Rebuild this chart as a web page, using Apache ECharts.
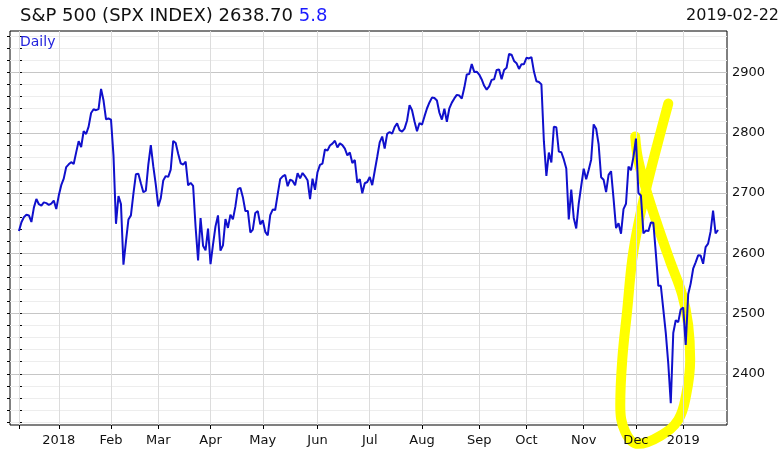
<!DOCTYPE html>
<html><head><meta charset="utf-8">
<script src="https://cdn.jsdelivr.net/npm/echarts@6/dist/echarts.min.js"></script>
<style>html,body{margin:0;padding:0;background:#fff}#c{width:783px;height:454px}</style>
</head><body><div id="c"></div>
<script>
const dates = [
'2017-12-07','2017-12-08','2017-12-11','2017-12-12','2017-12-13','2017-12-14','2017-12-15','2017-12-18','2017-12-19','2017-12-20','2017-12-21','2017-12-22','2017-12-26','2017-12-27','2017-12-28','2017-12-29',
'2018-01-02','2018-01-03','2018-01-04','2018-01-05','2018-01-08','2018-01-09','2018-01-10','2018-01-11','2018-01-12','2018-01-16','2018-01-17','2018-01-18','2018-01-19','2018-01-22','2018-01-23','2018-01-24','2018-01-25','2018-01-26','2018-01-29','2018-01-30','2018-01-31',
'2018-02-01','2018-02-02','2018-02-05','2018-02-06','2018-02-07','2018-02-08','2018-02-09','2018-02-12','2018-02-13','2018-02-14','2018-02-15','2018-02-16','2018-02-20','2018-02-21','2018-02-22','2018-02-23','2018-02-26','2018-02-27','2018-02-28',
'2018-03-01','2018-03-02','2018-03-05','2018-03-06','2018-03-07','2018-03-08','2018-03-09','2018-03-12','2018-03-13','2018-03-14','2018-03-15','2018-03-16','2018-03-19','2018-03-20','2018-03-21','2018-03-22','2018-03-23','2018-03-26','2018-03-27','2018-03-28','2018-03-29',
'2018-04-02','2018-04-03','2018-04-04','2018-04-05','2018-04-06','2018-04-09','2018-04-10','2018-04-11','2018-04-12','2018-04-13','2018-04-16','2018-04-17','2018-04-18','2018-04-19','2018-04-20','2018-04-23','2018-04-24','2018-04-25','2018-04-26','2018-04-27','2018-04-30',
'2018-05-01','2018-05-02','2018-05-03','2018-05-04','2018-05-07','2018-05-08','2018-05-09','2018-05-10','2018-05-11','2018-05-14','2018-05-15','2018-05-16','2018-05-17','2018-05-18','2018-05-21','2018-05-22','2018-05-23','2018-05-24','2018-05-25','2018-05-29','2018-05-30','2018-05-31',
'2018-06-01','2018-06-04','2018-06-05','2018-06-06','2018-06-07','2018-06-08','2018-06-11','2018-06-12','2018-06-13','2018-06-14','2018-06-15','2018-06-18','2018-06-19','2018-06-20','2018-06-21','2018-06-22','2018-06-25','2018-06-26','2018-06-27','2018-06-28','2018-06-29',
'2018-07-02','2018-07-03','2018-07-05','2018-07-06','2018-07-09','2018-07-10','2018-07-11','2018-07-12','2018-07-13','2018-07-16','2018-07-17','2018-07-18','2018-07-19','2018-07-20','2018-07-23','2018-07-24','2018-07-25','2018-07-26','2018-07-27','2018-07-30','2018-07-31',
'2018-08-01','2018-08-02','2018-08-03','2018-08-06','2018-08-07','2018-08-08','2018-08-09','2018-08-10','2018-08-13','2018-08-14','2018-08-15','2018-08-16','2018-08-17','2018-08-20','2018-08-21','2018-08-22','2018-08-23','2018-08-24','2018-08-27','2018-08-28','2018-08-29','2018-08-30','2018-08-31',
'2018-09-04','2018-09-05','2018-09-06','2018-09-07','2018-09-10','2018-09-11','2018-09-12','2018-09-13','2018-09-14','2018-09-17','2018-09-18','2018-09-19','2018-09-20','2018-09-21','2018-09-24','2018-09-25','2018-09-26','2018-09-27','2018-09-28',
'2018-10-01','2018-10-02','2018-10-03','2018-10-04','2018-10-05','2018-10-08','2018-10-09','2018-10-10','2018-10-11','2018-10-12','2018-10-15','2018-10-16','2018-10-17','2018-10-18','2018-10-19','2018-10-22','2018-10-23','2018-10-24','2018-10-25','2018-10-26','2018-10-29','2018-10-30','2018-10-31',
'2018-11-01','2018-11-02','2018-11-05','2018-11-06','2018-11-07','2018-11-08','2018-11-09','2018-11-12','2018-11-13','2018-11-14','2018-11-15','2018-11-16','2018-11-19','2018-11-20','2018-11-21','2018-11-23','2018-11-26','2018-11-27','2018-11-28','2018-11-29','2018-11-30',
'2018-12-03','2018-12-04','2018-12-06','2018-12-07','2018-12-10','2018-12-11','2018-12-12','2018-12-13','2018-12-14','2018-12-17','2018-12-18','2018-12-19','2018-12-20','2018-12-21','2018-12-24','2018-12-26','2018-12-27','2018-12-28','2018-12-31',
'2019-01-02','2019-01-03','2019-01-04','2019-01-07','2019-01-08','2019-01-09','2019-01-10','2019-01-11','2019-01-14','2019-01-15','2019-01-16','2019-01-17','2019-01-18','2019-01-22','2019-01-23'
];
const closes = [
2636.98,2651.50,2659.99,2664.11,2662.85,2652.01,2675.81,2690.16,2681.47,2679.25,2684.57,2683.34,2680.50,2682.62,2687.54,2673.61,
2695.81,2713.06,2723.99,2743.15,2747.71,2751.29,2748.23,2767.56,2786.24,2776.42,2802.56,2798.03,2810.30,2832.97,2839.13,2837.54,2839.25,2872.87,2853.53,2822.43,2823.81,
2821.98,2762.13,2648.94,2695.14,2681.66,2581.00,2619.55,2656.00,2662.94,2698.63,2731.20,2732.22,2716.26,2701.33,2703.96,2747.30,2779.60,2744.28,2713.83,
2677.67,2691.25,2720.94,2728.12,2726.80,2738.97,2786.57,2783.02,2765.31,2749.48,2747.33,2752.01,2712.92,2716.94,2711.93,2643.69,2588.26,2658.55,2612.62,2605.00,2640.87,
2581.88,2614.45,2644.69,2662.84,2604.47,2613.16,2656.87,2642.19,2663.99,2656.30,2677.84,2706.39,2708.64,2693.13,2670.14,2670.29,2634.56,2639.40,2666.94,2669.91,2648.05,
2654.80,2635.67,2629.73,2663.42,2672.63,2671.92,2697.79,2723.07,2727.72,2730.13,2711.45,2722.46,2720.13,2712.97,2733.01,2724.44,2733.29,2727.76,2721.33,2689.86,2724.01,2705.27,
2734.62,2746.87,2748.80,2772.35,2770.37,2779.03,2782.00,2786.85,2775.63,2782.49,2779.66,2773.75,2762.59,2767.32,2749.76,2754.88,2717.07,2723.06,2699.63,2716.31,2718.37,
2726.71,2713.22,2736.61,2759.82,2784.17,2793.84,2774.02,2798.29,2801.31,2798.43,2809.55,2815.62,2804.49,2801.83,2806.98,2820.40,2846.07,2837.44,2818.82,2802.60,2816.29,
2813.36,2827.22,2840.35,2850.40,2858.45,2857.70,2853.58,2833.28,2821.93,2839.96,2818.37,2840.69,2850.13,2857.05,2862.96,2861.82,2856.98,2874.69,2896.74,2897.52,2914.04,2901.13,2901.52,
2896.72,2888.60,2878.05,2871.68,2877.13,2887.89,2888.92,2904.18,2904.98,2888.80,2904.31,2907.95,2930.75,2929.67,2919.37,2915.56,2905.97,2914.00,2913.98,
2924.59,2923.43,2925.51,2901.61,2885.57,2884.43,2880.34,2785.68,2728.37,2767.13,2750.79,2809.92,2809.21,2768.78,2767.78,2755.88,2740.69,2656.10,2705.57,2658.69,2641.25,2682.63,2711.74,
2740.37,2723.06,2738.31,2755.45,2813.89,2806.83,2781.01,2726.22,2722.18,2701.58,2730.20,2736.27,2690.73,2641.89,2649.93,2632.56,2673.45,2682.17,2743.79,2737.80,2760.17,
2790.37,2700.06,2695.95,2633.08,2637.72,2636.78,2651.07,2650.54,2599.95,2545.94,2546.16,2506.96,2467.42,2416.62,2351.10,2467.70,2488.83,2485.74,2506.85,
2510.03,2447.89,2531.94,2549.69,2574.41,2584.96,2596.64,2596.26,2582.61,2610.30,2616.10,2635.96,2670.71,2632.90,2638.70
];
const monthLabels = ['2018','Feb','Mar','Apr','May','Jun','Jul','Aug','Sep','Oct','Nov','Dec','2019'];
const yLabelTicks = [2400,2500,2600,2700,2800,2900];
const yMinorTicks = [2320,2340,2360,2380,2400,2420,2440,2460,2480,2500,2520,2540,2560,2580,2600,2620,2640,2660,2680,2700,2720,2740,2760,2780,2800,2820,2840,2860,2880,2900,2920,2940,2960];
const titleMain = 'S&P 500 (SPX INDEX) 2638.70';
const titleChange = '5.8';
const titleDate = '2019-02-22';
const periodLabel = 'Daily';
// freehand yellow highlight, in data coordinates [trading-day index, index level]
const highlightPath = [[261.0,2848.5],[256.6,2780.4],[252.5,2713.9],[248.9,2647.5],[246.5,2589.4],[244.5,2506.3],[242.5,2423.3],[241.7,2348.5],[243.7,2303.7],[248.9,2283.7],[257.8,2297.0],[265.0,2323.6],[268.2,2365.1],[269.8,2423.3],[269.0,2481.4],[266.6,2531.2],[261.8,2586.0],[256.6,2647.5],[252.1,2705.6],[248.9,2755.5],[247.7,2793.7]];

const monthStarts = [];
dates.forEach((d, i) => { if (i > 0 && d.slice(0, 7) !== dates[i - 1].slice(0, 7)) monthStarts.push(i); });
const labelAt = {};
monthStarts.forEach((i, k) => { labelAt[i] = monthLabels[k]; });
const xTicks = [0].concat(monthStarts);
const lineData = closes.map((v, i) => [i, v]);

const FONT = 'DejaVu Sans';
const Y_MIN = 2315, Y_MAX = 2969;
const chart = echarts.init(document.getElementById('c'), null, {renderer: 'canvas'});
chart.setOption({
  animation: false,
  backgroundColor: '#fff',
  title: [
    {
      text: '{a|' + titleMain + '} {b|' + titleChange + '}',
      left: 20, top: 7, padding: 0,
      textStyle: { fontWeight: 'normal', fontSize: 18, fontFamily: FONT, rich: {
        a: { fontFamily: FONT, fontSize: 18, fontWeight: 'normal', color: '#111' },
        b: { fontFamily: FONT, fontSize: 18, fontWeight: 'normal', color: '#1a1aff' }
      } }
    },
    {
      text: titleDate, right: 4, top: 8, padding: 0,
      textStyle: { fontFamily: FONT, fontSize: 16, fontWeight: 'normal', color: '#111' }
    },
    {
      text: periodLabel, left: 20, top: 35, padding: 0,
      textStyle: { fontFamily: FONT, fontSize: 14, fontWeight: 'normal', color: '#2222dd' }
    }
  ],
  grid: { left: 10, right: 56, top: 31, bottom: 29, show: true, borderColor: '#000', borderWidth: 1, backgroundColor: 'transparent', containLabel: false },
  xAxis: {
    type: 'value', min: -3.6, max: 284.6, z: 2,
    axisLine: { show: false },
    axisTick: { show: true, customValues: xTicks, length: 4, lineStyle: { color: '#000' } },
    axisLabel: { customValues: monthStarts, formatter: v => labelAt[v] || '', color: '#111', fontFamily: FONT, fontSize: 13, margin: 9 },
    splitLine: { show: true, lineStyle: { color: '#dcdcdc', width: 1 } }
  },
  yAxis: [
    {
      type: 'value', position: 'right', min: Y_MIN, max: Y_MAX,
      axisLine: { show: false },
      axisTick: { show: true, customValues: yMinorTicks, length: 3, lineStyle: { color: '#000' } },
      axisLabel: { customValues: yLabelTicks, formatter: v => String(v), color: '#111', fontFamily: FONT, fontSize: 13, margin: 5 },
      splitLine: { show: true, lineStyle: { color: '#ededed', width: 1 } }
    },
    {
      type: 'value', position: 'left', min: Y_MIN, max: Y_MAX,
      axisLine: { show: false },
      axisTick: { show: true, customValues: yMinorTicks, length: 3, lineStyle: { color: '#000' } },
      axisLabel: { show: false },
      splitLine: { show: false }
    },
    {
      type: 'value', position: 'right', min: Y_MIN, max: Y_MAX,
      axisLine: { show: false },
      axisTick: { show: false, customValues: yLabelTicks },
      axisLabel: { show: false },
      splitLine: { show: true, lineStyle: { color: '#c6c6c6', width: 1 } }
    }
  ],
  series: [
    {
      type: 'line', data: highlightPath, smooth: 0.4, showSymbol: false, clip: false, silent: true, z: 1,
      lineStyle: { color: '#ffff00', width: 10, cap: 'round', join: 'round' }
    },
    {
      type: 'line', data: lineData, showSymbol: false, silent: true, z: 3,
      lineStyle: { color: '#1010cc', width: 2 }
    }
  ]
});
</script></body></html>
